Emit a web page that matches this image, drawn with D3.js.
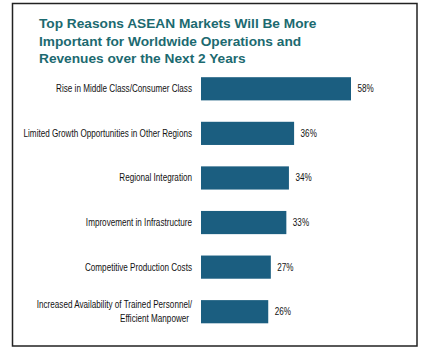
<!DOCTYPE html>
<html><head><meta charset="utf-8">
<script src="https://cdn.jsdelivr.net/npm/d3@7"></script>
<style>body{margin:0;background:#fff}svg{display:block}</style>
</head><body>
<script>
const categories = ["Rise in Middle Class/Consumer Class","Limited Growth Opportunities in Other Regions","Regional Integration","Improvement in Infrastructure","Competitive Production Costs","Increased Availability of Trained Personnel/\nEfficient Manpower"];
const values = [58,36,34,33,27,26];
const titleLines = ["Top Reasons ASEAN Markets Will Be More","Important for Worldwide Operations and","Revenues over the Next 2 Years"];

const W=431,H=351;
const svg=d3.select("body").append("svg").attr("width",W).attr("height",H);
svg.append("rect").attr("x",12.5).attr("y",3.5).attr("width",404.5).attr("height",342.5).attr("fill","none").attr("stroke","#222").attr("stroke-width",1.5);

svg.append("g").selectAll("text").data(titleLines).join("text")
  .attr("x",39).attr("y",(d,i)=>28+i*17.7)
  .attr("font-family","Liberation Sans, Arial, sans-serif").attr("font-weight","bold").attr("font-size",13.7)
  .attr("fill","#1c6a70").text(d=>d);

const x=d3.scaleLinear().domain([0,58]).range([201,351]);
const y=d3.scaleBand().domain(categories).range([66.5,334]).paddingInner(0.48).paddingOuter(0.24);

svg.append("g").selectAll("rect").data(values).join("rect")
  .attr("x",x(0)).attr("y",(d,i)=>y(categories[i])).attr("width",d=>x(d)-x(0)).attr("height",y.bandwidth())
  .attr("fill","#1b5e80");

const font="Liberation Sans, Arial, sans-serif";
const lab=svg.append("g").attr("font-family",font).attr("font-size",10).attr("fill","#111");
// condense factor so the widest label matches the narrow face of the original
const probe=lab.append("text").text(categories[1]);
const f=168.5/probe.node().getComputedTextLength();
probe.remove();

function condensed(g,x0,y0,txt,anchor){
  g.append("text").attr("text-anchor",anchor)
    .attr("transform",`translate(${x0},${y0}) scale(${f},1)`).text(txt);
}
categories.forEach((c,i)=>{
  const lines=c.split("\n");
  const cy=y(c)+y.bandwidth()/2;
  lines.forEach((l,j)=>{
    condensed(lab,j>0?189:192,cy+3.5+(j-(lines.length-1)/2)*14,l,"end");
  });
  condensed(lab,x(values[i])+6.5,cy+3.5,values[i]+"%","start");
});
</script>
</body></html>
